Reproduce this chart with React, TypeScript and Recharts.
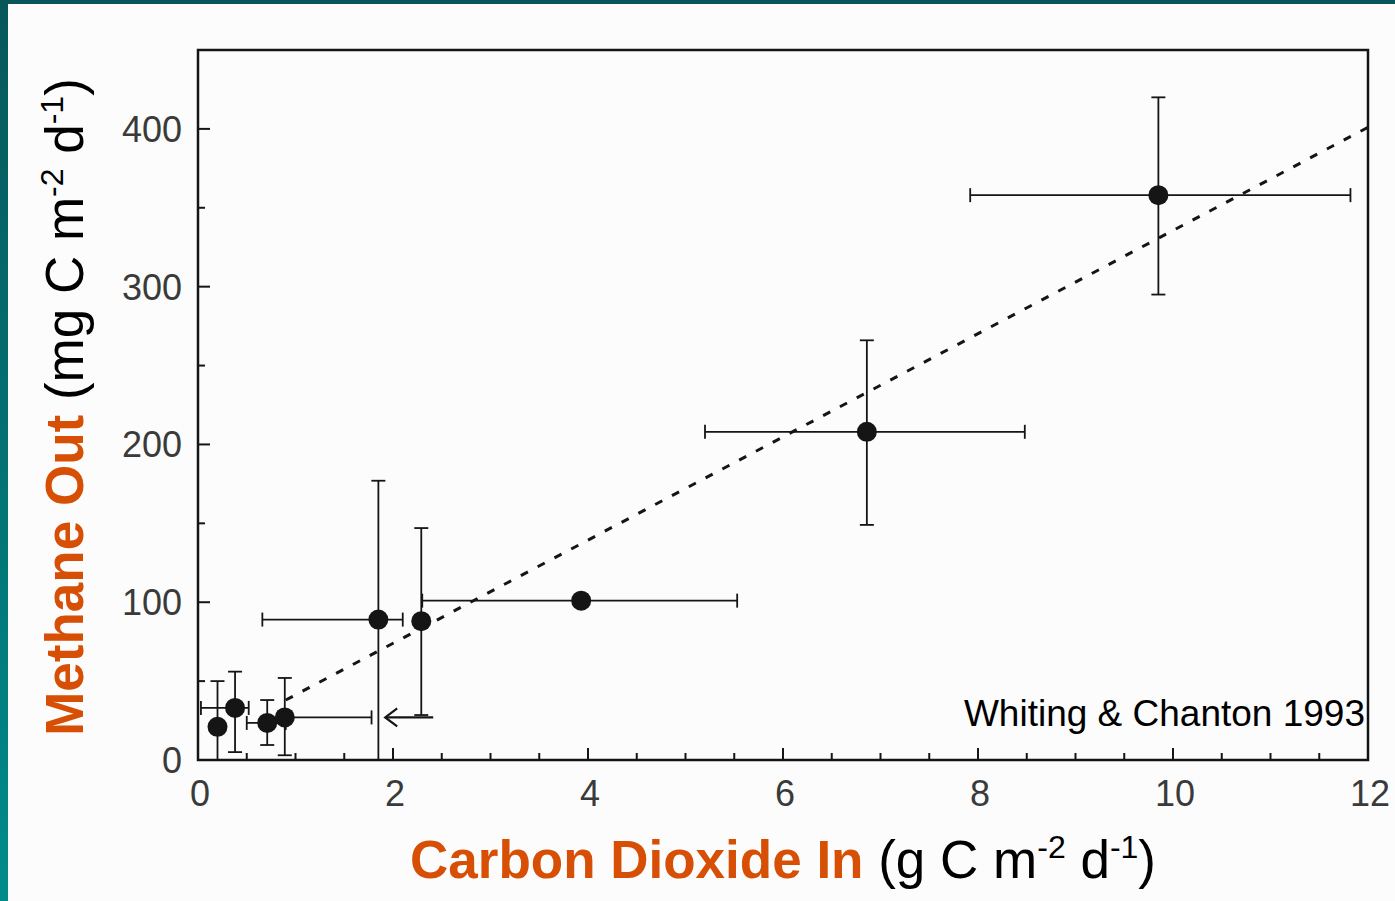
import React from "react";
import {
  ComposedChart,
  XAxis,
  YAxis,
  Scatter,
  Line,
  ErrorBar,
  ReferenceArea,
  Label,
} from "recharts";

// CO2 in (g C m-2 d-1) vs CH4 out (mg C m-2 d-1)
const co2In = [0.2, 0.38, 0.71, 0.89, 1.85, 2.29, 3.93, 6.86, 9.85];
const methaneOut = [21, 33, 23.5, 27, 89, 88, 101, 208, 358];
const co2Range = [
  [0.2, 0.2],
  [0.03, 0.52],
  [0.5, 0.9],
  [0.89, 1.78],
  [0.66, 2.1],
  [2.29, 2.29],
  [2.3, 5.53],
  [5.2, 8.48],
  [7.92, 11.82],
];
const methaneRange = [
  [0, 50],
  [5, 56],
  [9.5, 38],
  [3, 52],
  [0, 177],
  [28.5, 147],
  [97, 104],
  [149, 266],
  [295, 420],
];

// dashed regression line end points
const fitX = [0.9, 12];
const fitY = [38, 401];

// the little "<-" arrow
const arrowX = [1.92];
const arrowY = [27];

const xTicks = [0, 0.5, 1, 1.5, 2, 2.5, 3, 3.5, 4, 4.5, 5, 5.5, 6, 6.5, 7, 7.5, 8, 8.5, 9, 9.5, 10, 10.5, 11, 11.5, 12];
const yTicks = [0, 50, 100, 150, 200, 250, 300, 350, 400];
const xLabelTicks = [0, 2, 4, 6, 8, 10, 12];
const yLabelTicks = [0, 100, 200, 300, 400];

const W = 1395;
const H = 901;
const PLOT_LEFT = 198;
const PLOT_BOTTOM = 760;
const ORANGE = "#d64f04";
const INK = "#151515";
const TICK_FONT = "'Liberation Sans', Arial, sans-serif";

const points = co2In.map((x, i) => ({
  x,
  y: methaneOut[i],
  ex: [x - co2Range[i][0], co2Range[i][1] - x],
  ey: [methaneOut[i] - methaneRange[i][0], methaneRange[i][1] - methaneOut[i]],
}));
const fitData = fitX.map((x, i) => ({ x, y: fitY[i] }));
const arrowData = arrowX.map((x, i) => ({ x, y: arrowY[i] }));

const XTick = (props: any) => {
  const { x, payload } = props;
  const v = payload.value;
  const major = xLabelTicks.includes(v);
  return (
    <g>
      <line x1={x} x2={x} y1={PLOT_BOTTOM} y2={PLOT_BOTTOM - (major ? 12 : 7)} stroke={INK} strokeWidth={2} />
      {major && (
        <text x={x + 2} y={806} textAnchor="middle" fontFamily={TICK_FONT} fontSize={36} fill="#3a3a3a">
          {v}
        </text>
      )}
    </g>
  );
};

const YTick = (props: any) => {
  const { y, payload } = props;
  const v = payload.value;
  const major = yLabelTicks.includes(v);
  return (
    <g>
      <line x1={PLOT_LEFT} x2={PLOT_LEFT + (major ? 12 : 7)} y1={y} y2={y} stroke={INK} strokeWidth={2} />
      {major && (
        <text x={182} y={y + 13} textAnchor="end" fontFamily={TICK_FONT} fontSize={36} fill="#3a3a3a">
          {v}
        </text>
      )}
    </g>
  );
};

const XTitle = () => (
  <text x={783} y={878} textAnchor="middle" fontFamily="'Liberation Sans', Arial, sans-serif" fontSize={53} fill="#000">
    <tspan fontWeight="bold" fill={ORANGE}>Carbon Dioxide In</tspan>
    <tspan> (g C m</tspan>
    <tspan dy={-20} fontSize={32}>-2</tspan>
    <tspan dy={20}> d</tspan>
    <tspan dy={-20} fontSize={32}>-1</tspan>
    <tspan dy={20}>)</tspan>
  </text>
);

const YTitle = () => (
  <text
    x={407}
    y={83}
    transform="rotate(-90, 407, 407)"
    textAnchor="middle"
    fontFamily="'Liberation Sans', Arial, sans-serif"
    fontSize={53}
    fill="#000"
  >
    <tspan fontWeight="bold" fill={ORANGE}>Methane Out</tspan>
    <tspan> (mg C m</tspan>
    <tspan dy={-20} fontSize={32}>-2</tspan>
    <tspan dy={20}> d</tspan>
    <tspan dy={-20} fontSize={32}>-1</tspan>
    <tspan dy={20}>)</tspan>
  </text>
);

const Credit = (props: any) => {
  const { viewBox } = props;
  return (
    <text
      x={viewBox.x + viewBox.width - 3}
      y={viewBox.y + viewBox.height - 34}
      textAnchor="end"
      fontFamily="'Liberation Sans', Arial, sans-serif"
      fontSize={37}
      fill="#000"
    >
      Whiting &amp; Chanton 1993
    </text>
  );
};

const Dot = (props: any) => <circle cx={props.cx} cy={props.cy} r={10} fill={INK} />;

const Arrow = (props: any) => {
  const { cx, cy } = props;
  return (
    <g stroke={INK} strokeWidth={2.2} fill="none">
      <line x1={cx} y1={cy} x2={cx + 48} y2={cy} />
      <polyline points={`${cx + 12},${cy - 9} ${cx},${cy} ${cx + 12},${cy + 9}`} />
    </g>
  );
};

export default function App() {
  return (
    <div
      style={{
        position: "absolute",
        left: 0,
        top: 0,
        width: W,
        height: H,
        background: "linear-gradient(to bottom, #07575a, #008b8b)",
      }}
    >
      <div style={{ position: "absolute", left: 8, top: 4, width: W - 8, height: H - 4, background: "#fcfcfc" }} />
      <div style={{ position: "absolute", left: 0, top: 0 }}>
        <ComposedChart width={W} height={H} margin={{ top: 50, right: 27, left: 118, bottom: 81 }}>
          <XAxis
            type="number"
            dataKey="x"
            domain={[0, 12]}
            ticks={xTicks}
            interval={0}
            height={60}
            axisLine={false}
            tickLine={false}
            tick={<XTick />}
            allowDataOverflow
          >
            <Label content={<XTitle />} />
          </XAxis>
          <YAxis
            type="number"
            domain={[0, 450]}
            ticks={yTicks}
            interval={0}
            width={80}
            axisLine={false}
            tickLine={false}
            tick={<YTick />}
            allowDataOverflow
          >
            <Label content={<YTitle />} />
          </YAxis>
          <ReferenceArea
            x1={0}
            x2={12}
            y1={0}
            y2={450}
            fill="none"
            stroke={INK}
            strokeWidth={2.5}
            label={<Credit />}
          />
          <Line
            data={fitData}
            dataKey="y"
            type="linear"
            stroke={INK}
            strokeWidth={3}
            strokeDasharray="8 11"
            dot={false}
            activeDot={false}
            isAnimationActive={false}
          />
          <Scatter data={points} dataKey="y" shape={<Dot />} isAnimationActive={false}>
            <ErrorBar dataKey="ey" direction="y" width={7} stroke={INK} strokeWidth={1.8} />
            <ErrorBar dataKey="ex" direction="x" width={7} stroke={INK} strokeWidth={1.8} />
          </Scatter>
          <Scatter data={arrowData} dataKey="y" shape={<Arrow />} isAnimationActive={false} />
        </ComposedChart>
      </div>
    </div>
  );
}
